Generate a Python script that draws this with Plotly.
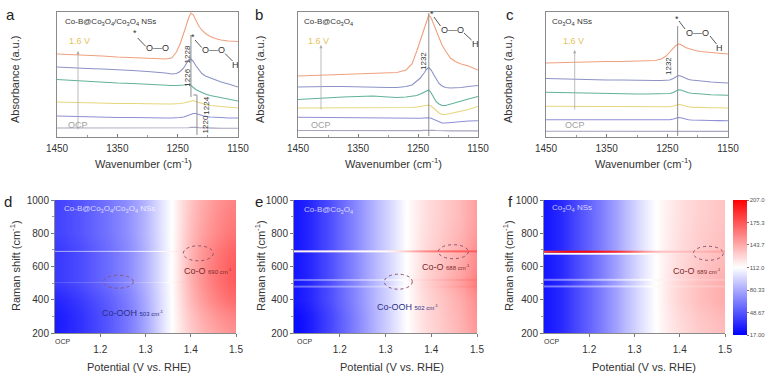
import plotly.graph_objects as go

W, H = 779, 377


def px(x):
    return x / W


def py(y):
    return 1 - y / H


# ---------------- spectra data (a, b, c) ----------------
wn = [1450, 1425, 1400, 1375, 1350, 1325, 1300, 1285, 1270, 1260, 1252, 1246, 1240,
      1236, 1232, 1228, 1224, 1220, 1215, 1210, 1204, 1196, 1188, 1178, 1166, 1150]
series_names = ["OCP", "E2", "E3", "E4", "E5", "1.6 V"]
series_colors = ["#aaa4c0", "#8e8fd6", "#e6d67c", "#62b19c", "#8b93c6", "#f0a07e"]

a_s1 = [9, 9, 8.8, 8.8, 8.7, 8.7, 8.6, 8.6, 8.6, 8.6, 8.6, 8.7, 8.8, 9, 9.3, 9.6, 9.8, 9.7, 9.4, 9.2, 9, 8.9, 8.9, 8.8, 8.8, 8.8]
a_s2 = [21, 20.5, 20.5, 20, 19.5, 19.5, 19, 19, 19, 19, 19, 19.5, 20, 21, 22, 23, 23.5, 23.5, 22.5, 21.5, 20.5, 20, 19.5, 19.5, 19, 19]
a_s3 = [35, 34.5, 34.5, 34, 33.5, 33.5, 33, 33, 33, 33, 33, 33.5, 34, 34.5, 35.5, 36, 36.5, 35.5, 34.5, 33.5, 32.5, 31.5, 31, 30.5, 30, 29]
a_s4 = [57.5, 56.5, 55.5, 55, 54, 53.5, 52.5, 52, 52, 51.5, 51.5, 51.5, 52, 52.5, 52.5, 51.5, 49.5, 47.5, 46, 44.5, 43, 41.5, 40.5, 39.5, 38, 36]
a_s5 = [70, 69, 68.5, 68, 67.5, 66.5, 65.5, 65, 64, 63, 63.5, 65.5, 69, 73, 77, 78, 75.5, 71.5, 67, 63.5, 61, 59, 57, 55, 53, 50]
a_s6 = [83, 82.5, 81.5, 81, 80, 79.5, 78.5, 78, 78, 79, 85, 93, 103, 111, 119, 124, 122, 117, 111, 107, 103.5, 100.5, 98.5, 97, 96, 95.5]

b_s1 = [6.5, 6.4, 6.4, 6.3, 6.3, 6.3, 6.2, 6.2, 6.2, 6.2, 6.3, 6.4, 6.6, 6.8, 7, 6.9, 6.7, 6.5, 6.3, 6.2, 6.1, 6.1, 6.1, 6.1, 6.1, 6.1]
b_s2 = [19.7, 19.5, 19.3, 19, 19, 19, 18.8, 18.7, 18.5, 18.5, 18.5, 18.7, 19, 19.2, 19.3, 18.7, 17.5, 16.5, 15, 14, 14, 14.5, 15, 15.5, 16, 16.3]
b_s3 = [29, 29, 29, 29, 29, 29.5, 29.5, 29.5, 29.5, 29.5, 30, 30.5, 31, 31.5, 32, 31, 29, 26.5, 24, 22.5, 22.5, 23.5, 24.5, 26, 27.5, 30.5]
b_s4 = [37.5, 38.5, 39.5, 40, 40.5, 41, 40, 39.5, 40, 40.5, 41.5, 43, 45, 46.5, 47, 44, 39.5, 35.5, 33, 31.5, 31.5, 33, 34.5, 36, 38, 40.5]
b_s5 = [50, 50.5, 50.5, 50.5, 50, 50, 49.5, 49.5, 50.5, 52, 55.5, 59, 64, 67.5, 69.5, 67, 62.5, 58, 53.5, 51, 49.5, 49, 49, 49.5, 50.5, 51.5]
b_s6 = [61, 61.5, 62, 62.5, 63, 63, 63.5, 64.5, 67, 73, 86, 97, 108, 116, 122, 119, 113, 105, 98, 92, 86, 79, 75.5, 73, 71, 67]

c_s1 = [5.7, 5.7, 5.7, 5.6, 5.6, 5.6, 5.6, 5.6, 5.6, 5.6, 5.6, 5.7, 5.9, 6.1, 6.3, 6.2, 6, 5.9, 5.8, 5.7, 5.7, 5.6, 5.6, 5.6, 5.6, 5.6]
c_s2 = [17.3, 17.3, 17.2, 17.1, 17, 17, 17, 17, 17, 17, 17, 17.3, 18, 19, 19.5, 19.2, 18.5, 17.8, 17.3, 17, 16.8, 16.7, 16.6, 16.5, 16.4, 16.3]
c_s3 = [30.7, 30.7, 30.6, 30.5, 30.5, 30.4, 30.3, 30.2, 30.1, 30, 30, 30.3, 31, 32, 32.5, 32.2, 31.5, 30.8, 30.2, 29.9, 29.7, 29.5, 29.4, 29.3, 29.2, 29]
c_s4 = [44.7, 44.3, 44, 43.7, 43.5, 43.3, 43, 43, 43, 43, 43, 43.5, 44.5, 46, 47.3, 47, 46, 45, 44.3, 43.8, 43.3, 43, 42.7, 42.3, 42, 41.7]
c_s5 = [58.5, 58, 57.5, 57.5, 57, 57, 56.5, 56.5, 56.5, 56.5, 56.5, 57, 58.5, 60, 61.5, 61, 60, 58.5, 57.5, 57, 56.5, 56, 55.5, 55, 54.5, 54]
c_s6 = [74, 74.5, 74.5, 75, 75.5, 75.5, 76, 76, 76.5, 78, 81, 85, 89, 91.5, 93, 92.5, 91, 89.5, 88.5, 87.5, 86.5, 85.5, 85, 84.5, 84, 83]

spectra = {
    "a": [a_s1, a_s2, a_s3, a_s4, a_s5, a_s6],
    "b": [b_s1, b_s2, b_s3, b_s4, b_s5, b_s6],
    "c": [c_s1, c_s2, c_s3, c_s4, c_s5, c_s6],
}
wn_ticks = [1450, 1350, 1250, 1150]

# ---------------- Raman heat-map data (d, e, f) ----------------
potential = [1.10, 1.12, 1.14, 1.16, 1.18, 1.20, 1.22, 1.24, 1.26, 1.28, 1.30,
             1.32, 1.34, 1.36, 1.38, 1.40, 1.42, 1.44, 1.46, 1.48, 1.50]
raman_rows = [200, 300, 400, 500, 600, 700, 800, 900, 1000]

d_level = [38, 40, 43, 46, 50, 54, 58, 63, 68, 75, 84, 94, 104, 114, 128, 140, 149, 156, 162, 167, 170]
d_gain_blue = [1.15, 1.15, 1.1, 1.0, 1.0, 1.0, 0.95, 0.95, 0.95]
d_gain_red = [0.7, 0.8, 0.95, 1.05, 1.05, 1.0, 0.9, 0.85, 0.8]

e_level = [25, 28, 33, 40, 47, 55, 62, 70, 78, 86, 94, 102, 110, 117, 124, 129, 133, 138, 142, 148, 155]
e_gain_blue = [1.05, 1.05, 1.0, 1.0, 1.0, 1.0, 1.0, 1.0, 1.0]
e_gain_red = [0.9, 0.95, 1.0, 1.15, 1.05, 1.0, 0.9, 0.85, 0.85]

f_level = [25, 28, 33, 40, 47, 54, 61, 69, 77, 86, 95, 103, 110, 116, 121, 125, 128, 131, 133, 135, 137]
f_gain_blue = [1.0, 1.0, 1.0, 1.0, 1.0, 1.0, 1.0, 1.0, 1.0]
f_gain_red = [1.0, 1.1, 1.25, 1.25, 1.1, 1.0, 0.95, 0.9, 0.9]

# narrow Raman bands: (centre cm-1, width cm-1, intensity along potential)
d_bands = [
    (690, 4, [80, 81, 83, 85, 88, 91, 94, 97, 100, 104, 108, 111, 113, 118, 129, 140, 149, 156, 162, 167, 170]),
    (503, 4, [50, 52, 55, 58, 61, 64, 68, 72, 76, 82, 90, 99, 108, 117, 130, 141, 150, 158, 164, 169, 172]),
]
e_bands = [
    (690, 7, [118, 118, 117, 117, 116, 116, 115, 114, 113, 113, 114, 120, 130, 142, 152, 159, 164, 168, 171, 173, 173]),
    (520, 5, [58, 60, 63, 67, 72, 77, 82, 87, 92, 97, 102, 107, 113, 120, 128, 134, 140, 146, 152, 158, 164]),
    (480, 5, [55, 57, 60, 64, 69, 74, 79, 84, 89, 94, 100, 105, 111, 118, 126, 132, 138, 144, 150, 156, 162]),
]
f_bands = [
    (678, 5, [108, 108, 109, 110, 110, 110, 110, 111, 112, 112, 112, 112, 114, 117, 121, 125, 128, 131, 133, 135, 137]),
    (690, 5, [185, 195, 200, 205, 205, 205, 200, 195, 190, 180, 165, 150, 140, 135, 135, 136, 138, 140, 142, 145, 148]),
    (520, 6, [62, 64, 67, 71, 76, 81, 86, 91, 96, 101, 106, 110, 114, 117, 121, 125, 128, 131, 133, 135, 137]),
    (480, 6, [60, 62, 65, 69, 74, 79, 84, 89, 94, 99, 104, 109, 113, 117, 121, 125, 128, 131, 133, 135, 137]),
]
cbar_vals = [17.0, 48.67, 80.33, 112.0, 143.7, 175.3, 207.0]
cbar_text = ["17.00", "48.67", "80.33", "112.0", "143.7", "175.3", "207.0"]
pot_ticks = [1.2, 1.3, 1.4, 1.5]
raman_ticks = [200, 400, 600, 800, 1000]

CS = [[0, "#0000ff"], [0.5, "#ffffff"], [1, "#ff0000"]]
ZMIN, ZMAX = 17.0, 207.0
MID = 112.0


def build_z(level, gain_blue, gain_red):
    z = []
    for gb, gr in zip(gain_blue, gain_red):
        row = []
        for v in level:
            dev = v - MID
            row.append(MID + dev * (gb if dev < 0 else gr))
        z.append(row)
    return z


FONT = "Liberation Sans, Arial, sans-serif"
TXT = "#333333"

fig = go.Figure()

# Panel geometry in pixels: (left, right, top, bottom)
spec_boxes = {"a": (57, 238, 12, 137), "b": (298, 478, 12, 137), "c": (546, 728, 12, 137)}
heat_boxes = {"d": (55, 236, 200, 333), "e": (294, 477, 200, 333), "f": (544, 725, 200, 333)}

layout_axes = {}
ax_i = 0
for key in ["a", "b", "c"]:
    ax_i += 1
    xs = "x" if ax_i == 1 else f"x{ax_i}"
    ys = "y" if ax_i == 1 else f"y{ax_i}"
    for vals, name, col in zip(spectra[key], series_names, series_colors):
        fig.add_trace(go.Scatter(x=wn, y=vals, mode="lines", name=name,
                                 line=dict(color=col, width=1.1), xaxis=xs, yaxis=ys,
                                 showlegend=False, hoverinfo="skip"))
    l, r, t, b = spec_boxes[key]
    xname = "xaxis" if ax_i == 1 else f"xaxis{ax_i}"
    yname = "yaxis" if ax_i == 1 else f"yaxis{ax_i}"
    layout_axes[xname] = dict(domain=[px(l), px(r)], anchor=ys, range=[1450, 1150],
                              tickvals=wn_ticks, ticks="inside", ticklen=3, tickcolor="#777",
                              minor=dict(dtick=50, ticks="inside", ticklen=2, tickcolor="#999"),
                              showline=True, mirror=True, linecolor="#8a8a8a", linewidth=1,
                              showgrid=False, zeroline=False, ticklabelstandoff=2, automargin=False,
                              tickfont=dict(size=10, color=TXT, family=FONT))
    layout_axes[yname] = dict(domain=[py(b), py(t)], anchor=xs, range=[0, 125], automargin=False,
                              showticklabels=False, ticks="", showline=True, mirror=True,
                              linecolor="#8a8a8a", linewidth=1, showgrid=False, zeroline=False)

heat_data = {
    "d": (d_level, d_gain_blue, d_gain_red, d_bands),
    "e": (e_level, e_gain_blue, e_gain_red, e_bands),
    "f": (f_level, f_gain_blue, f_gain_red, f_bands),
}
for key in ["d", "e", "f"]:
    ax_i += 1
    xs, ys = f"x{ax_i}", f"y{ax_i}"
    level, gb, gr, bands = heat_data[key]
    z = build_z(level, gb, gr)
    show = key == "f"
    fig.add_trace(go.Heatmap(
        x=potential, y=raman_rows, z=z, colorscale=CS, zmin=ZMIN, zmax=ZMAX,
        zsmooth="best", xaxis=xs, yaxis=ys, hoverinfo="skip", showscale=show,
        colorbar=dict(x=px(733), xanchor="left", y=py(335), yanchor="bottom",
                      len=135 / H, lenmode="fraction", thickness=14, thicknessmode="pixels",
                      tickvals=cbar_vals, ticktext=cbar_text, ticks="outside", ticklen=2,
                      tickcolor="#777", outlinewidth=0, xpad=0, ypad=0,
                      tickfont=dict(size=6, color="#555", family=FONT)) if show else None))
    for centre, hw, vals in bands:
        fig.add_trace(go.Heatmap(
            x=potential, y=[centre - hw / 2, centre + hw / 2], z=[vals, vals],
            colorscale=CS, zmin=ZMIN, zmax=ZMAX, zsmooth="best", showscale=False,
            xaxis=xs, yaxis=ys, hoverinfo="skip"))
    l, r, t, b = heat_boxes[key]
    layout_axes[f"xaxis{ax_i}"] = dict(domain=[px(l), px(r)], anchor=ys, range=[1.1, 1.5],
                                       tickvals=pot_ticks, ticktext=["1.2", "1.3", "1.4", "1.5"],
                                       ticks="outside", ticklen=3, tickcolor="#777", automargin=False,
                                       showline=True, linecolor="#8a8a8a", linewidth=1,
                                       showgrid=False, zeroline=False, ticklabelstandoff=4,
                                       tickfont=dict(size=10, color=TXT, family=FONT))
    layout_axes[f"yaxis{ax_i}"] = dict(domain=[py(b), py(t)], anchor=xs, range=[200, 1000],
                                       tickvals=raman_ticks, ticks="outside", ticklen=3,
                                       tickcolor="#777", showline=True, linecolor="#8a8a8a",
                                       linewidth=1, showgrid=False, zeroline=False, automargin=False,
                                       minor=dict(dtick=100, ticks="outside", ticklen=2, tickcolor="#999"),
                                       tickfont=dict(size=10, color=TXT, family=FONT))

ann = []
shapes = []


def text(x, y, s, size=10, color=TXT, xanchor="center", angle=0, yanchor="middle"):
    ann.append(dict(x=px(x), y=py(y), xref="paper", yref="paper", text=s, showarrow=False,
                    font=dict(size=size, color=color, family=FONT), xanchor=xanchor,
                    yanchor=yanchor, textangle=angle))


def seg(x0, y0, x1, y1, color="#444", width=0.9, dash=None):
    ln = dict(color=color, width=width)
    if dash:
        ln["dash"] = dash
    shapes.append(dict(type="line", xref="paper", yref="paper", x0=px(x0), y0=py(y0),
                       x1=px(x1), y1=py(y1), line=ln))


def ellipse(cx, cy, w, h):
    shapes.append(dict(type="circle", xref="paper", yref="paper", x0=px(cx - w / 2),
                       x1=px(cx + w / 2), y0=py(cy + h / 2), y1=py(cy - h / 2),
                       line=dict(color="#8a5670", width=1, dash="dot")))


def arrow(x, y_from, y_to):
    ann.append(dict(x=px(x), y=py(y_to), xref="paper", yref="paper", ax=0, ay=y_from - y_to,
                    axref="pixel", ayref="pixel", text="", showarrow=True, arrowhead=2,
                    arrowsize=0.8, arrowwidth=0.8, arrowcolor="#aaaaaa"))


# panel letters
for lab, x, y in [("a", 10, 15), ("b", 259, 15), ("c", 510, 15), ("d", 8, 201), ("e", 259, 201), ("f", 510, 201)]:
    text(x, y, lab, size=15, color="#222")

# axis titles
for cx in [143.5, 394, 643.5]:
    text(cx, 163, "Wavenumber (cm<sup>-1</sup>)", size=11)
for cx in [15, 260, 508]:
    text(cx, 80, "Absorbance (a.u.)", size=11, angle=-90)
for cx in [139, 392, 644]:
    text(cx, 367, "Potential (V vs. RHE)", size=11)
for cx in [15, 260, 508]:
    text(cx, 266, "Raman shift (cm<sup>-1</sup>)", size=11, angle=-90)
for cx in [63, 305, 552]:
    text(cx, 341, "OCP", size=7)

# spectra annotations
text(63, 22, "Co-B@Co<sub>3</sub>O<sub>4</sub>/Co<sub>3</sub>O<sub>4</sub> NSs", size=8, xanchor="left")
text(302, 22, "Co-B@Co<sub>3</sub>O<sub>4</sub>", size=8, xanchor="left")
text(550, 22, "Co<sub>3</sub>O<sub>4</sub> NSs", size=8, xanchor="left")
for x in [79, 318.5, 573]:
    text(x, 41, "1.6 V", size=9, color="#e2c45a")
for x in [77.5, 321, 575]:
    text(x, 125, "OCP", size=9, color="#a0a0a0")
arrow(78, 131, 51)
arrow(321, 111, 45)
arrow(574.7, 111, 50)

# peak marker lines (data coordinates)
for xref, yref, x0, x1, y0, y1 in [("x", "y", 1228, 1228, 40, 102), ("x", "y", 1218, 1218, 2, 42),
                                   ("x", "y", 1224, 1218, 42, 42), ("x2", "y2", 1232, 1232, 1, 124),
                                   ("x3", "y3", 1233, 1233, 1, 111)]:
    shapes.append(dict(type="line", xref=xref, yref=yref, x0=x0, x1=x1, y0=y0, y1=y1,
                       line=dict(color="#8c8c8c", width=1)))
text(187.7, 54.7, "1228", size=8, angle=-90)
text(187.7, 78, "1226", size=8, angle=-90)
text(205.7, 106, "1224", size=8, angle=-90)
text(205.7, 124.7, "1220", size=8, angle=-90)
text(423, 61, "1232", size=8, angle=-90)
text(668, 66, "1232", size=8, angle=-90)

# adsorbate sketches
text(135, 33, "*", size=9)
seg(137.7, 38, 145.7, 46.3)
text(157, 48, "O—O", size=9)
text(193.3, 37.3, "*", size=9)
seg(195, 40, 201.7, 47.5)
text(213.3, 50.3, "O—O", size=9)
seg(225, 53.5, 232.5, 61)
text(235, 65.5, "H", size=9)
text(431.7, 14.5, "*", size=9)
seg(434, 17, 440.5, 26)
text(452.3, 29.7, "O—O", size=9)
seg(464, 33, 471.5, 40)
text(475, 43.5, "H", size=9)
text(677, 19, "*", size=9)
seg(679, 21, 685, 29)
text(697, 33, "O—O", size=9)
seg(710, 36, 716.5, 44)
text(719.5, 48.5, "H", size=9)

# heat-map annotations
WT = "rgba(255,255,255,0.75)"
text(62, 209, "Co-B@Co<sub>3</sub>O<sub>4</sub>/Co<sub>3</sub>O<sub>4</sub> NSs", size=8, color=WT, xanchor="left")
text(302, 210, "Co-B@Co<sub>3</sub>O<sub>4</sub>", size=8, color=WT, xanchor="left")
text(550, 208, "Co<sub>3</sub>O<sub>4</sub> NSs", size=8, color=WT, xanchor="left")
NAVY, DRED = "#2b2f86", "#7a2a2a"
text(100, 312.7, "Co-OOH <span style='font-size:6px'>503 cm<sup>-1</sup></span>", size=9, color=NAVY, xanchor="left")
text(182, 270.7, "Co-O <span style='font-size:6px'>690 cm<sup>-1</sup></span>", size=9, color=DRED, xanchor="left")
text(375, 306.7, "Co-OOH <span style='font-size:6px'>502 cm<sup>-1</sup></span>", size=9, color=NAVY, xanchor="left")
text(420, 266.7, "Co-O <span style='font-size:6px'>688 cm<sup>-1</sup></span>", size=9, color=DRED, xanchor="left")
text(671, 271, "Co-O <span style='font-size:6px'>689 cm<sup>-1</sup></span>", size=9, color=DRED, xanchor="left")
ellipse(118.3, 281.7, 30, 13)
ellipse(198.3, 253.3, 30, 15)
ellipse(398.3, 281.7, 28, 15)
ellipse(453.3, 251.7, 30, 14)
ellipse(708.3, 253.3, 30, 14)

fig.update_layout(width=W, height=H, margin=dict(l=0, r=0, t=0, b=0, autoexpand=False),
                  paper_bgcolor="white", plot_bgcolor="white",
                  font=dict(family=FONT, color=TXT), annotations=ann, shapes=shapes,
                  **layout_axes)

fig.write_html("out.html", config={"displayModeBar": False},
               post_script="document.body.style.margin='0';document.body.style.padding='0';")
